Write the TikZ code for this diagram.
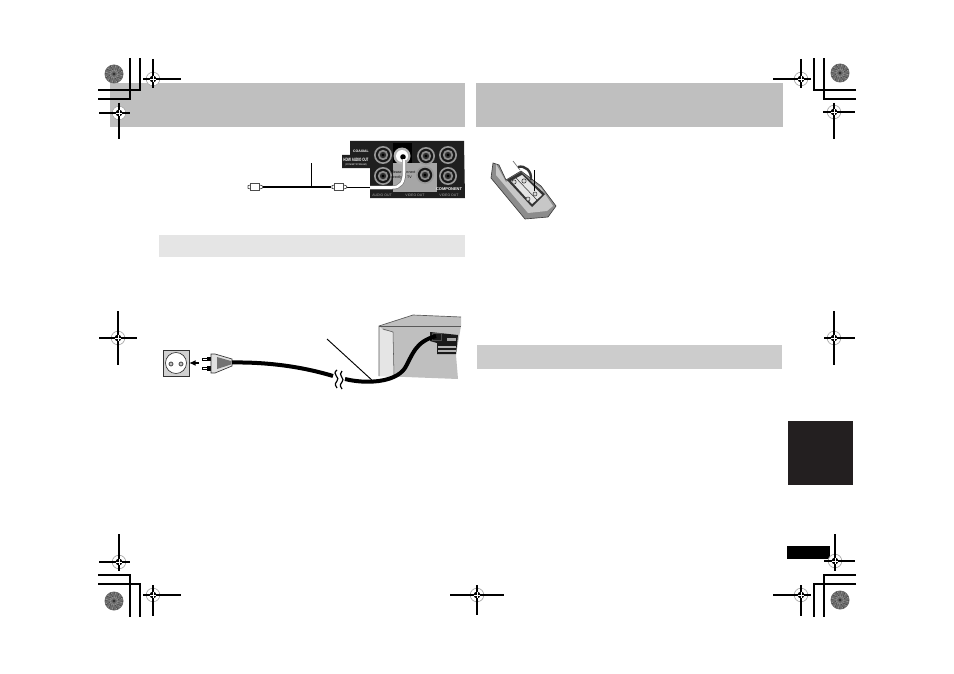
\documentclass[tikz,border=0pt]{standalone}
\usepackage{fontspec}
\setmainfont{Liberation Sans}
\usepackage{graphicx}
\usetikzlibrary{arrows.meta}
\definecolor{tabdark}{HTML}{231F20}
\tikzset{
  crop/.style={black,line width=0.85pt},
  hair/.style={black,line width=0.7pt},
  jack/.pic={
    \fill[black!40] (0,0) circle (9);
    \fill[black!90] (0,0) circle (7.2);
    \fill[black!45] (0,0) circle (5.2);
    \fill[black!80] (0,0) circle (3.2);
    \fill[black] (0,0) circle (1.6);
  },
  rca/.pic={
    \draw[black!70,line width=0.5pt,fill=white] (-4.5,-3.5) rectangle (4.5,3.5);
    \draw[black!70,line width=0.5pt,fill=white] (-7,-1.4) -- (-4.5,-2) -- (-4.5,2) -- (-7,1.4) -- cycle;
    \draw[black!70,line width=0.5pt,fill=white] (4.5,-2) -- (7,-1.4) -- (8,0) -- (7,1.4) -- (4.5,2) -- cycle;
  },
  rosette/.pic={
    \fill[black!58] (0,0) circle (9.5);
    \foreach \a in {0,30,...,330}{
      \draw[black!38,line width=0.7pt] (\a:3) -- (\a+12:8.5);
      \draw[black!72,line width=0.5pt] (\a+15:4) -- (\a+5:9);
    }
    \fill[black!80] (0,0) circle (1.6);
  }
}
\newcommand{\regmark}[6]{%
  \begin{scope}[shift={(#1,#2)}]
    \draw[gray!70,fill=white,line width=0.5pt] (0,0) circle (6.8);
    \draw[crop] (-#3,0) -- (#4,0);
    \draw[crop] (0,-#5) -- (0,#6);
    \fill[black] (0,0) circle (3.4);
    \draw[white,line width=0.6pt] (-3.4,0) -- (3.4,0) (0,-3.4) -- (0,3.4);
  \end{scope}}
\begin{document}
\begin{tikzpicture}[x=0.75pt,y=-0.75pt]
\useasboundingbox (0,0) rectangle (954,674);
% bars
\fill[black!25] (110,83) rectangle (465,127);
\fill[black!25] (476,83) rectangle (783,127);
\fill[black!10] (159,235) rectangle (465,257);
\fill[black!20] (477,345) rectangle (782,369);
\fill[tabdark] (788,421) rectangle (853,485);
\fill[black] (787,546) rectangle (830,559);
% crop marks
\draw[crop] (98,90) -- (140,90) -- (140,58);
\draw[crop] (98,99) -- (130,99) -- (130,58);
\draw[crop] (856,90) -- (814,90) -- (814,58);
\draw[crop] (856,99) -- (824,99) -- (824,58);
\draw[crop] (98,575) -- (130,575) -- (130,617);
\draw[crop] (98,584) -- (140,584) -- (140,617);
\draw[crop] (856,575) -- (824,575) -- (824,617);
\draw[crop] (856,584) -- (814,584) -- (814,617);
% rosettes
\pic at (114,74) {rosette};
\pic at (840,73) {rosette};
\pic at (114,601) {rosette};
\pic at (840,600) {rosette};
% registration
\regmark{153}{79}{10}{28}{20}{9}
\regmark{119}{113}{20}{11}{10}{26}
\regmark{801}{79}{28}{10}{20}{9}
\regmark{834}{112}{11}{21}{9}{27}
\regmark{118}{338}{19}{19}{27}{27}
\regmark{834}{338}{10}{21}{27}{27}
\regmark{119}{562}{20}{11}{28}{9}
\regmark{835}{561}{11}{20}{27}{10}
\regmark{153}{595}{10}{28}{10}{21}
\regmark{477}{595}{27}{27}{10}{20}
\regmark{801}{595}{28}{10}{10}{21}
% rear panel
\fill[black!88] (350,141) -- (464,141) -- (465,198) -- (370,198) -- (370,168) -- (342,168) -- (342,155) -- (350,155) -- cycle;
\fill[black!35] (393,163) rectangle (437,192);
\fill[black] (393,143) rectangle (412,163);
\pic at (383,155) {jack};
\pic at (383,176) {jack};
\pic at (426,156) {jack};
\pic at (448,155) {jack};
\pic at (425,175) {jack};
\pic at (448,176) {jack};
\node[white,font=\fontsize{2.6}{3}\selectfont\bfseries,inner sep=0pt] (lbcoax) at (361,151) {COAXIAL};
\node[white,font=\fontsize{3.6}{4}\selectfont\bfseries,inner sep=0pt] (lbdig) at (356,160) {\scalebox{0.62}[1]{HDMI AUDIO OUT}};
\node[white,font=\fontsize{1.8}{2.2}\selectfont,inner sep=0pt] (lbdigb) at (356,165) {(PCM/BITSTREAM)};
\node[black,font=\fontsize{2.7}{3.2}\selectfont,align=left,inner sep=0pt] (lbplease) at (403,175) {Please connect\\directly to TV};
\node[black!35,font=\fontsize{2.6}{3}\selectfont,inner sep=0pt] (lbaudio) at (382,195) {AUDIO OUT};
\node[black!35,font=\fontsize{2.6}{3}\selectfont,inner sep=0pt] (lbvideo) at (415,195.3) {VIDEO OUT};
\node[white,font=\fontsize{3}{3.5}\selectfont\bfseries,inner sep=0pt] (lbcomp) at (449,189.5) {COMPONENT};
\node[black!35,font=\fontsize{2.6}{3}\selectfont,inner sep=0pt] (lbcompb) at (449,195.3) {VIDEO OUT};
% selected jack and cable
\fill[black!30] (402,156) circle (8.5);
\fill[white] (402,156) circle (6);
\fill[black] (403,157) circle (2.8);
\draw[hair,line width=1pt] (347,187.5) -- (372,187.5);
\draw[black!50,line width=3pt] (370,187.5) -- (392,187.5) .. controls (401,187.5) and (404,182) .. (404,172) -- (404,160);
\draw[white,line width=1.9pt] (370,187.5) -- (392,187.5) .. controls (401,187.5) and (404,182) .. (404,172) -- (404,159);
% video lead
\coordinate (vtop) at (311,163);
\coordinate (vj) at (311,187);
\pic (rcaa) at (255,187) {rca};
\pic (rcab) at (339,187) {rca};
\draw[black,line width=1.1pt] (263,187) -- (331,187);
\draw[hair] (vtop) -- (vj);
% socket
\draw[black!80,fill=black!18,line width=0.7pt] (163,350) rectangle (189,376);
\draw[black!80,fill=white,line width=0.5pt] (176,363) circle (10.5);
\draw[black!80,fill=black!25,line width=0.5pt] (171,364) circle (2);
\draw[black!80,fill=black!25,line width=0.5pt] (181,364) circle (2);
\draw[black,line width=1pt,-{Latex[length=5pt,width=4.5pt]}] (199,363) -- (189,363);
% plug
\draw[black,line width=0.4pt,fill=white] (202,358) rectangle (207,360);
\draw[black,line width=0.4pt,fill=white] (202,367.5) rectangle (207,369.5);
\fill[black] (207,356.5) rectangle (211,361);
\fill[black] (207,366) rectangle (211,371);
\draw[black!80,fill=black!12,line width=0.5pt] (211,354) -- (215,354) -- (232,359) -- (232,366) -- (215,373) -- (211,373) -- cycle;
\fill[black!55] (217,357) -- (231,361) -- (231,364.5) -- (217,369) -- cycle;
% receiver
\fill[black!25] (379,326) -- (413,315) -- (461,317) -- (461,326) -- cycle;
\fill[black!25] (379,326) -- (461,326) -- (456,355) -- (458,379) -- (379,376) -- cycle;
\fill[black!10] (379,326) -- (383,330) -- (393,332) -- (394,376) -- (379,376) -- cycle;
\draw[black!65,line width=0.5pt] (461,317) -- (413,315) -- (379,326) -- (379,376);
\draw[black!65,line width=0.5pt] (379,326) -- (461,326);
\draw[black!65,line width=0.4pt] (383,329) -- (393,332) -- (394,376);
\fill[black!90] (430,332) -- (458,335) -- (456,354) -- (437,354) -- (437,343) -- (430,341) -- cycle;
\fill[black!35] (447,338) rectangle (456,341);
\fill[black!30] (438,346) rectangle (456,348);
\fill[black!30] (438,350) rectangle (456,351.5);
\draw[black!70,line width=0.4pt] (432,333) rectangle (441,340);
% power cord
\coordinate (cordA) at (232,362.5);
\coordinate (cordB) at (333,376);
\coordinate (cordC) at (345,379);
\coordinate (cordD) at (436,336);
\draw[black,line width=3pt] (cordA) .. controls (265,362) and (300,366) .. (cordB);
\draw[black,line width=3pt] (cordC) .. controls (365,384) and (395,383) .. (405,368) .. controls (413,354) and (415,342) .. (cordD);
\draw[black,line width=0.9pt] (337,370) .. controls (331,374) and (341,378) .. (337,381) .. controls (334,384) and (336,387) .. (337,388);
\draw[black,line width=0.9pt] (342,371) .. controls (337,375) and (346,379) .. (342,382) .. controls (339,385) and (341,388) .. (342,389);
\coordinate (leadA) at (327,339);
\coordinate (leadB) at (374,382);
\draw[hair] (leadA) -- (leadB);
% remote
\draw[black!75,fill=black!45,line width=0.5pt] (493,163) -- (491,178) -- (525,219) -- (548,217) -- (556,206) -- (541,186) -- (521,171) -- (506,180) -- (499,165) -- cycle;
\fill[black!22] (496,164) -- (496,175) -- (528,213) -- (547,211) -- (553,206) -- (541,188) -- (521,174) -- (506,182) -- cycle;
\fill[black!80] (507,180) -- (521,172) -- (545,194) -- (532,207) -- cycle;
\fill[black!10] (511,181) -- (522,175) -- (542,195) -- (532,204) -- cycle;
\draw[black!80,line width=0.4pt] (516,178) -- (537,200);
\draw[black!80,fill=black!15,line width=0.4pt] (514,182) circle (2.2) (524,181) circle (2.2) (528,199) circle (2) (535,194) circle (2);
\draw[black!55,line width=0.5pt] (513,161) -- (520,170);
\draw[black!80,line width=1.8pt] (518,167) .. controls (525,165) and (532,171) .. (531,180);
\coordinate (remA) at (534,170);
\coordinate (remB) at (534,191);
\draw[hair] (remA) -- (remB);
\end{tikzpicture}
\end{document}
